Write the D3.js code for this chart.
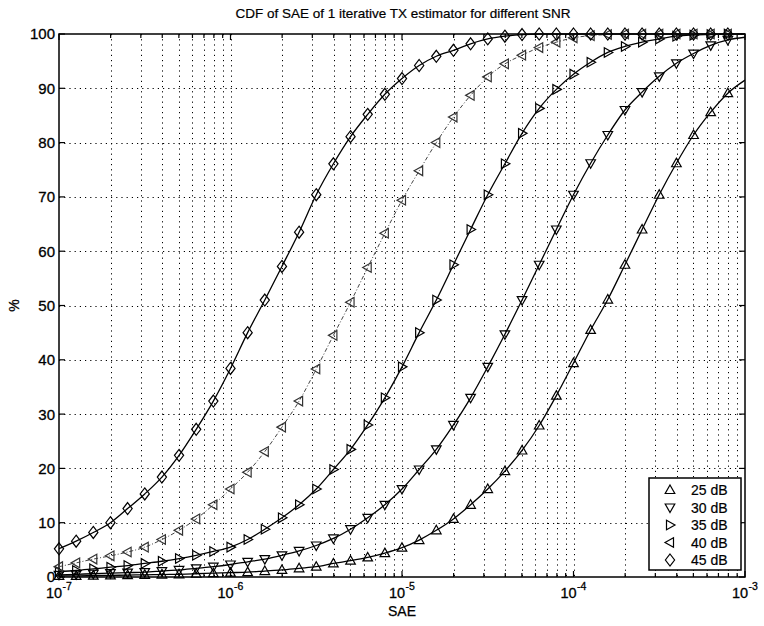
<!DOCTYPE html>
<html><head><meta charset="utf-8">
<script src="https://cdn.jsdelivr.net/npm/d3@7"></script>
<style>body{margin:0;background:#fff}svg{display:block}</style>
</head><body>
<script>
// ---- data ----
const saeExponent = [-7.0,-6.9,-6.8,-6.7,-6.6,-6.5,-6.4,-6.3,-6.2,-6.1,-6.0,-5.9,-5.8,-5.7,-5.6,-5.5,-5.4,-5.3,-5.2,-5.1,-5.0,-4.9,-4.8,-4.7,-4.6,-4.5,-4.4,-4.3,-4.2,-4.1,-4.0,-3.9,-3.8,-3.7,-3.6,-3.5,-3.4,-3.3,-3.2,-3.1,-3.0];
const snr25 = [0.2,0.2,0.25,0.3,0.35,0.4,0.45,0.5,0.6,0.7,0.8,0.9,1.1,1.3,1.6,1.9,2.5,3.0,3.6,4.4,5.4,6.8,8.6,10.7,13.3,16.2,19.5,23.3,27.9,33.4,39.4,45.5,51.1,57.5,64.0,70.4,76.2,81.4,85.6,89.1,91.5];
const snr30 = [0.4,0.5,0.6,0.7,0.8,0.9,1.1,1.3,1.6,1.9,2.3,2.8,3.3,4.0,4.8,5.8,7.1,8.8,10.9,13.3,16.2,19.8,23.5,28.0,33.0,38.7,44.7,51.0,57.5,64.0,70.4,76.2,81.4,86.0,89.3,92.2,94.6,96.4,97.9,98.9,99.4];
const snr35 = [1.0,1.2,1.5,1.8,2.1,2.5,2.9,3.4,4.0,4.7,5.5,6.9,8.8,10.9,13.3,16.2,19.8,23.5,28.0,33.0,38.7,45.0,51.0,57.5,64.0,70.4,76.1,81.7,86.3,89.8,92.6,94.8,96.6,97.7,98.5,99.1,99.6,99.8,99.9,100,100];
const snr40 = [1.9,2.6,3.3,3.9,4.6,5.5,6.9,8.6,10.7,13.3,16.2,19.3,23.1,27.6,32.4,38.3,44.5,50.6,57.0,63.3,69.4,74.8,80.0,84.7,88.7,92.1,94.5,96.1,97.5,98.5,99.3,99.7,99.9,100,100,100,100,100,100,100,100];
const snr45 = [5.2,6.6,8.2,10.0,12.6,15.3,18.4,22.4,27.2,32.4,38.4,45.0,51.0,57.2,63.5,70.4,76.1,81.1,85.2,88.9,91.8,94.2,95.9,97.0,98.2,99.1,99.6,99.9,100,100,100,100,100,100,100,100,100,100,100,100,100];
const seriesNames = ["25 dB","30 dB","35 dB","40 dB","45 dB"];
const seriesMarkers = ["up","down","right","left","diamond"];
const xTickExponents = [-7,-6,-5,-4,-3];
const yTicks = [0,10,20,30,40,50,60,70,80,90,100];
const title = "CDF of SAE of 1 iterative TX estimator for different SNR";

// ---- layout ----
const W = 764, H = 626;
const L = 59, R = 745, T = 34, B = 577;
const FONT = "Arimo, 'Liberation Sans', Arial, Helvetica, sans-serif";

const svg = d3.select("body").append("svg").attr("width", W).attr("height", H)
  .style("font-family", FONT);

const x = d3.scaleLog().domain([1e-7, 1e-3]).range([L, R]);
const y = d3.scaleLinear().domain([0, 100]).range([B, T]);

const xGridVals = [];
for (let e = -7; e < -3; e++) for (let m = 1; m <= 9; m++) xGridVals.push(m * Math.pow(10, e));
xGridVals.push(1e-3);

const grid = svg.append("g").attr("stroke", "#000").attr("stroke-width", 1)
  .attr("stroke-dasharray", "1.2,4").attr("fill", "none");
grid.selectAll("line.gx").data(xGridVals.filter(v => v > 1e-7 && v < 1e-3)).join("line")
  .attr("x1", d => Math.round(x(d)) + 0.5).attr("x2", d => Math.round(x(d)) + 0.5)
  .attr("y1", T).attr("y2", B);
grid.selectAll("line.gy").data(yTicks.filter(v => v > 0 && v < 100)).join("line")
  .attr("y1", d => Math.round(y(d)) + 0.5).attr("y2", d => Math.round(y(d)) + 0.5)
  .attr("x1", L).attr("x2", R);

svg.append("rect").attr("x", L).attr("y", T).attr("width", R - L).attr("height", B - T)
  .attr("fill", "none").attr("stroke", "#000").attr("stroke-width", 1.5);

const tk = svg.append("g").attr("stroke", "#000").attr("stroke-width", 1.2);
xGridVals.forEach(v => {
  const major = Math.abs(Math.log10(v) - Math.round(Math.log10(v))) < 1e-9;
  const len = major ? 6 : 4;
  const px = x(v);
  tk.append("line").attr("x1", px).attr("x2", px).attr("y1", B).attr("y2", B - len);
  tk.append("line").attr("x1", px).attr("x2", px).attr("y1", T).attr("y2", T + len);
});
yTicks.forEach(v => {
  tk.append("line").attr("x1", L).attr("x2", L + 6).attr("y1", y(v)).attr("y2", y(v));
  tk.append("line").attr("x1", R).attr("x2", R - 6).attr("y1", y(v)).attr("y2", y(v));
});

svg.append("g").selectAll("text").data(yTicks).join("text")
  .attr("x", L - 4).attr("y", d => y(d)).attr("dy", "0.36em")
  .attr("text-anchor", "end").attr("font-size", 15).attr("fill", "#000")
  .attr("stroke", "#000").attr("stroke-width", 0.3).text(d => d);

// x tick labels: base "10" and superscript exponent as separate texts
const xlg = svg.append("g").attr("stroke", "#000").attr("stroke-width", 0.3);
xTickExponents.forEach(e => {
  const cx = x(Math.pow(10, e));
  xlg.append("text").attr("x", cx - 13).attr("y", 598).attr("font-size", 14.5).text("10");
  xlg.append("text").attr("x", cx + 3.5).attr("y", 590).attr("font-size", 10.5).text("-" + Math.abs(e));
});

svg.append("text").attr("x", (L + R) / 2).attr("y", 616).attr("text-anchor", "middle")
  .attr("font-size", 14).attr("stroke", "#000").attr("stroke-width", 0.25).text("SAE");
svg.append("text").attr("transform", `translate(19,${(T + B) / 2}) rotate(-90)`)
  .attr("text-anchor", "middle").attr("font-size", 14).attr("stroke", "#000").attr("stroke-width", 0.25).text("%");
svg.append("text").attr("x", (L + R) / 2 + 1).attr("y", 18).attr("text-anchor", "middle")
  .attr("font-size", 13.5).attr("stroke", "#000").attr("stroke-width", 0.2).text(title);

function markerPath(type) {
  switch (type) {
    case "up": return "M0,-5L4.8,3.5L-4.8,3.5Z";
    case "down": return "M0,5L4.8,-3.5L-4.8,-3.5Z";
    case "right": return "M5,0L-3.5,-4.8L-3.5,4.8Z";
    case "left": return "M-5,0L3.5,-4.8L3.5,4.8Z";
    case "diamond": return "M0,-6L4.6,0L0,6L-4.6,0Z";
  }
}

const allSeries = [snr25, snr30, snr35, snr40, snr45];
const line = d3.line().x(d => x(Math.pow(10, d[0]))).y(d => y(d[1])).curve(d3.curveMonotoneX);

svg.append("clipPath").attr("id", "clip").append("rect")
  .attr("x", L).attr("y", T - 1).attr("width", R - L).attr("height", B - T + 2);

allSeries.forEach((vals, i) => {
  const pts = saeExponent.map((e, j) => [e, vals[j]]);
  svg.append("path").attr("d", line(pts)).attr("fill", "none")
    .attr("stroke", i === 3 ? "#444" : "#000").attr("stroke-width", i === 3 ? 1 : 1.3)
    .attr("stroke-dasharray", i === 3 ? "4,2,1,2" : null)
    .attr("clip-path", "url(#clip)");
  svg.append("g").selectAll("path").data(pts.slice(0, pts.length - 1)).join("path")
    .attr("transform", d => `translate(${x(Math.pow(10, d[0]))},${y(d[1])})`)
    .attr("d", markerPath(seriesMarkers[i]))
    .attr("fill", "none").attr("stroke", i === 3 ? "#333" : "#000").attr("stroke-width", 1.2);
});

const lg = svg.append("g");
const lgX = 649, lgY = 478, lgW = 92, lgH = 92;
lg.append("rect").attr("x", lgX).attr("y", lgY).attr("width", lgW).attr("height", lgH)
  .attr("fill", "#fff").attr("stroke", "#000").attr("stroke-width", 1.5);
seriesNames.forEach((name, i) => {
  const cy = 490 + i * 17.5;
  lg.append("path").attr("transform", `translate(670,${cy})`).attr("d", markerPath(seriesMarkers[i]))
    .attr("fill", "none").attr("stroke", "#000").attr("stroke-width", 1.2);
  lg.append("text").attr("x", 691).attr("y", cy).attr("dy", "0.36em").attr("font-size", 14)
    .attr("stroke", "#000").attr("stroke-width", 0.2).text(name);
});
</script>
</body></html>
